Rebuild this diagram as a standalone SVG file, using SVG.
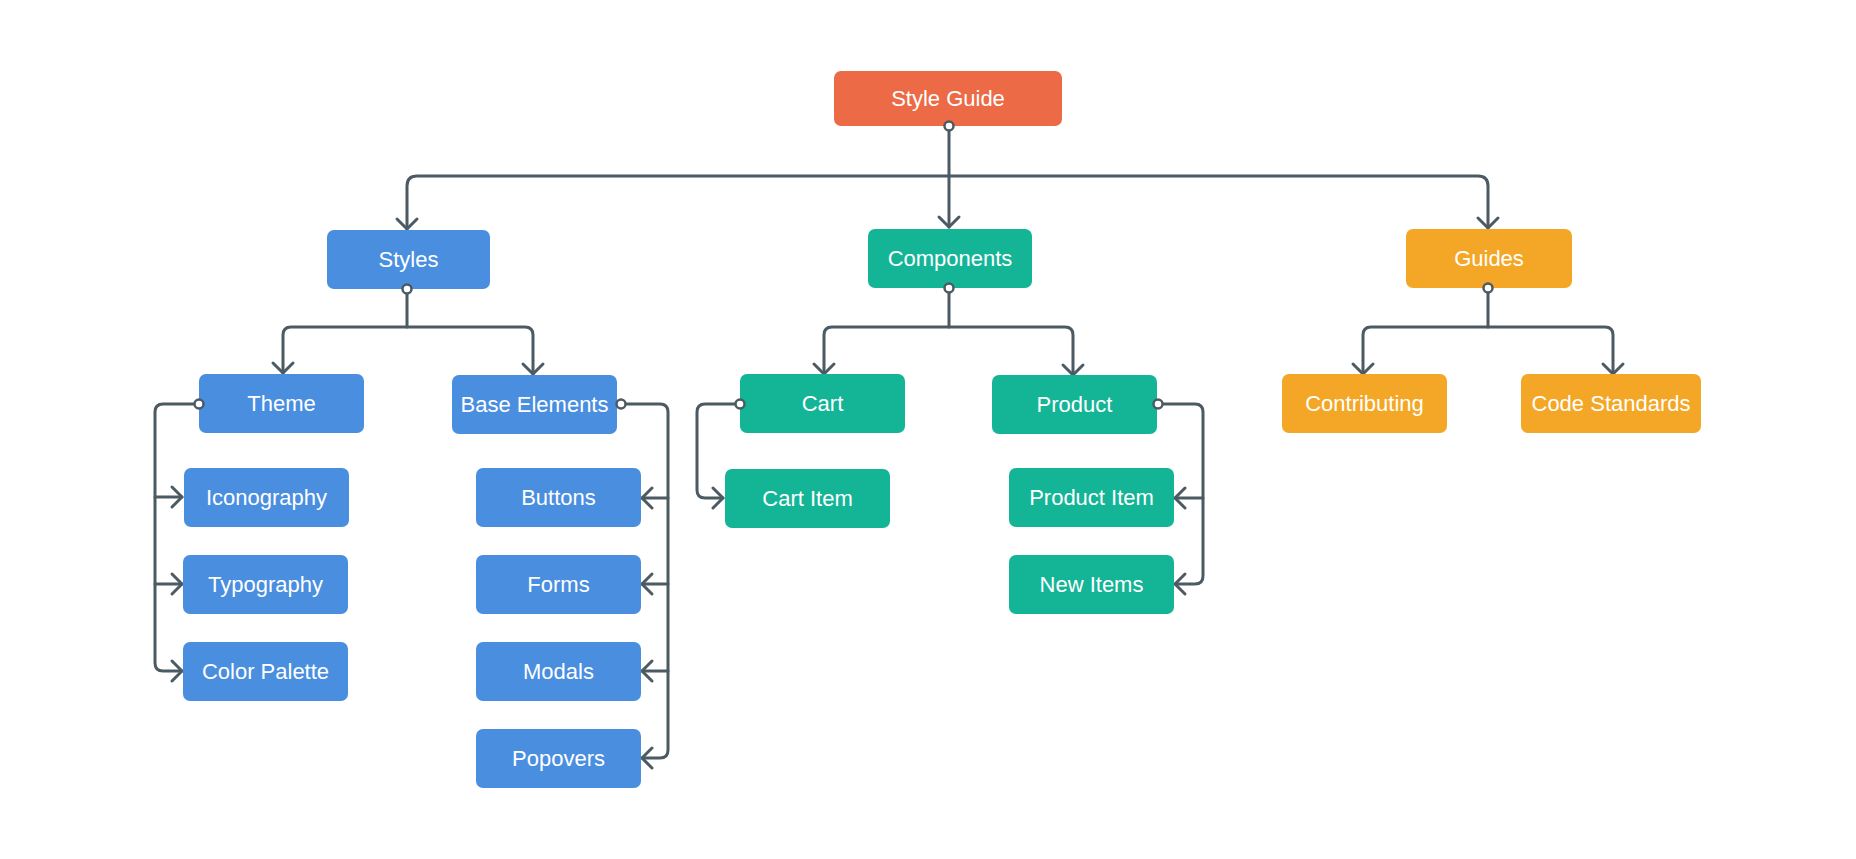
<svg xmlns="http://www.w3.org/2000/svg" width="1856" height="859" viewBox="0 0 1856 859">
<defs>
<style>
.box{stroke:none}
.red{fill:#EC6A45}
.blue{fill:#4A8EE0}
.teal{fill:#13B596}
.yel{fill:#F4A726}
.lbl{font-family:"Liberation Sans",Arial,sans-serif;font-size:22px;fill:#ffffff;text-anchor:middle}
.ln{fill:none;stroke:#4B5A63;stroke-width:3;stroke-linejoin:round;stroke-linecap:round}
.dot{fill:#ffffff;stroke:#4B5A63;stroke-width:2.5}
</style>
<marker id="ah" markerUnits="userSpaceOnUse" markerWidth="26" markerHeight="26" viewBox="-13 -13 26 26" refX="0" refY="0" orient="auto">
<path d="M-10,-10 L0,0 L-10,10" fill="none" stroke="#4B5A63" stroke-width="3" stroke-linecap="round" stroke-linejoin="round"/>
</marker>
</defs>
<rect width="1856" height="859" fill="#ffffff"/>

<g id="connectors">
<path class="ln" d="M949,126 V227" marker-end="url(#ah)"/>
<path class="ln" d="M949,176 H417 Q407,176 407,186 V229" marker-end="url(#ah)"/>
<path class="ln" d="M949,176 H1478 Q1488,176 1488,186 V228" marker-end="url(#ah)"/>
<path class="ln" d="M407,289 V327 H291 Q283,327 283,335 V373" marker-end="url(#ah)"/>
<path class="ln" d="M407,327 H525 Q533,327 533,335 V374" marker-end="url(#ah)"/>
<path class="ln" d="M949,288 V327 H832 Q824,327 824,335 V374" marker-end="url(#ah)"/>
<path class="ln" d="M949,327 H1065 Q1073,327 1073,335 V375" marker-end="url(#ah)"/>
<path class="ln" d="M1488,288 V327 H1371 Q1363,327 1363,335 V374" marker-end="url(#ah)"/>
<path class="ln" d="M1488,327 H1605 Q1613,327 1613,335 V374" marker-end="url(#ah)"/>
<path class="ln" d="M199,404 H163 Q155,404 155,412 V663 Q155,671 163,671 H182" marker-end="url(#ah)"/>
<path class="ln" d="M155,497 H182" marker-end="url(#ah)"/>
<path class="ln" d="M155,584 H182" marker-end="url(#ah)"/>
<path class="ln" d="M621,404 H660 Q668,404 668,412 V750 Q668,758 660,758 H642" marker-end="url(#ah)"/>
<path class="ln" d="M668,498 H642" marker-end="url(#ah)"/>
<path class="ln" d="M668,584 H642" marker-end="url(#ah)"/>
<path class="ln" d="M668,671 H642" marker-end="url(#ah)"/>
<path class="ln" d="M740,404 H705 Q697,404 697,412 V490 Q697,498 705,498 H723" marker-end="url(#ah)"/>
<path class="ln" d="M1158,404 H1195 Q1203,404 1203,412 V576 Q1203,584 1195,584 H1175" marker-end="url(#ah)"/>
<path class="ln" d="M1203,498 H1175" marker-end="url(#ah)"/>
</g>

<g id="n-styleguide"><rect class="box red" x="834" y="71" width="228" height="55" rx="7"/><text class="lbl" x="948" y="106">Style Guide</text></g>
<g id="n-styles"><rect class="box blue" x="327" y="230" width="163" height="59" rx="7"/><text class="lbl" x="408.5" y="267">Styles</text></g>
<g id="n-components"><rect class="box teal" x="868" y="229" width="164" height="59" rx="7"/><text class="lbl" x="950" y="266">Components</text></g>
<g id="n-guides"><rect class="box yel" x="1406" y="229" width="166" height="59" rx="7"/><text class="lbl" x="1489" y="266">Guides</text></g>

<g id="n-theme"><rect class="box blue" x="199" y="374" width="165" height="59" rx="7"/><text class="lbl" x="281.5" y="411">Theme</text></g>
<g id="n-base"><rect class="box blue" x="452" y="375" width="165" height="59" rx="7"/><text class="lbl" x="534.5" y="412">Base Elements</text></g>
<g id="n-cart"><rect class="box teal" x="740" y="374" width="165" height="59" rx="7"/><text class="lbl" x="822.5" y="411">Cart</text></g>
<g id="n-product"><rect class="box teal" x="992" y="375" width="165" height="59" rx="7"/><text class="lbl" x="1074.5" y="412">Product</text></g>
<g id="n-contributing"><rect class="box yel" x="1282" y="374" width="165" height="59" rx="7"/><text class="lbl" x="1364.5" y="411">Contributing</text></g>
<g id="n-codestandards"><rect class="box yel" x="1521" y="374" width="180" height="59" rx="7"/><text class="lbl" x="1611" y="411">Code Standards</text></g>

<g id="n-iconography"><rect class="box blue" x="184" y="468" width="165" height="59" rx="7"/><text class="lbl" x="266.5" y="505">Iconography</text></g>
<g id="n-typography"><rect class="box blue" x="183" y="555" width="165" height="59" rx="7"/><text class="lbl" x="265.5" y="592">Typography</text></g>
<g id="n-colorpalette"><rect class="box blue" x="183" y="642" width="165" height="59" rx="7"/><text class="lbl" x="265.5" y="679">Color Palette</text></g>

<g id="n-buttons"><rect class="box blue" x="476" y="468" width="165" height="59" rx="7"/><text class="lbl" x="558.5" y="505">Buttons</text></g>
<g id="n-forms"><rect class="box blue" x="476" y="555" width="165" height="59" rx="7"/><text class="lbl" x="558.5" y="592">Forms</text></g>
<g id="n-modals"><rect class="box blue" x="476" y="642" width="165" height="59" rx="7"/><text class="lbl" x="558.5" y="679">Modals</text></g>
<g id="n-popovers"><rect class="box blue" x="476" y="729" width="165" height="59" rx="7"/><text class="lbl" x="558.5" y="766">Popovers</text></g>

<g id="n-cartitem"><rect class="box teal" x="725" y="469" width="165" height="59" rx="7"/><text class="lbl" x="807.5" y="506">Cart Item</text></g>
<g id="n-productitem"><rect class="box teal" x="1009" y="468" width="165" height="59" rx="7"/><text class="lbl" x="1091.5" y="505">Product Item</text></g>
<g id="n-newitems"><rect class="box teal" x="1009" y="555" width="165" height="59" rx="7"/><text class="lbl" x="1091.5" y="592">New Items</text></g>

<g id="dots">
<circle class="dot" cx="949" cy="126" r="4.5"/>
<circle class="dot" cx="407" cy="289" r="4.5"/>
<circle class="dot" cx="949" cy="288" r="4.5"/>
<circle class="dot" cx="1488" cy="288" r="4.5"/>
<circle class="dot" cx="199" cy="404" r="4.5"/>
<circle class="dot" cx="621" cy="404" r="4.5"/>
<circle class="dot" cx="740" cy="404" r="4.5"/>
<circle class="dot" cx="1158" cy="404" r="4.5"/>
</g>
</svg>
